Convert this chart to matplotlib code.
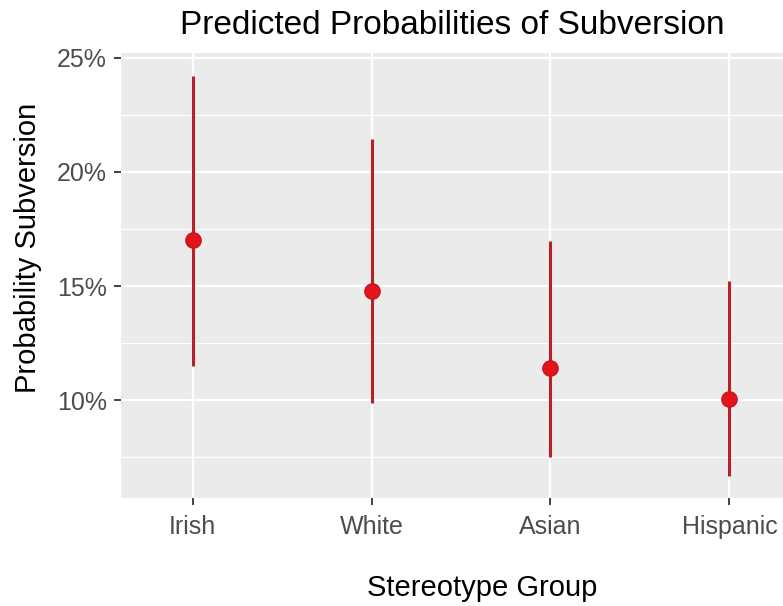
import matplotlib
matplotlib.use("Agg")
import matplotlib.pyplot as plt
from matplotlib.ticker import FixedLocator, FuncFormatter

# Predicted probabilities (%) with confidence intervals
groups = ["Irish", "White", "Asian", "Hispanic"]
predicted = [17.0, 14.8, 11.4, 10.05]
lower = [11.5, 9.9, 7.5, 6.7]
upper = [24.2, 21.45, 16.95, 15.2]

y_major = [10, 15, 20, 25]
y_minor = [7.5, 12.5, 17.5, 22.5]

plt.rcParams["font.family"] = ["Liberation Sans", "DejaVu Sans"]

W, H = 783, 606
fig = plt.figure(figsize=(W / 100, H / 100), dpi=100)
left, right, top, bottom = 121, 801, 53, 498
ax = fig.add_axes([left / W, 1 - bottom / H, (right - left) / W, (bottom - top) / H])

ax.set_facecolor("#EBEBEB")
for s in ax.spines.values():
    s.set_visible(False)

x = list(range(1, len(groups) + 1))
ax.set_xlim(0.6, len(groups) + 0.4)
ax.set_ylim(5.72, 25.2)

ax.yaxis.set_major_locator(FixedLocator(y_major))
ax.yaxis.set_minor_locator(FixedLocator(y_minor))
ax.yaxis.set_major_formatter(FuncFormatter(lambda v, p: f"{v:.0f}%"))
ax.set_xticks(x)
ax.set_xticklabels(groups)

ax.grid(which="major", color="white", linewidth=1.6)
ax.grid(which="minor", axis="y", color="white", linewidth=0.8)
ax.set_axisbelow(True)

ax.tick_params(axis="both", which="major", length=5, width=1.3, color="#333333",
               labelsize=18, labelcolor="#4D4D4D", pad=5)
ax.tick_params(axis="y", which="minor", length=0)
ax.tick_params(axis="x", pad=7)

for xi, lo, hi in zip(x, lower, upper):
    ax.plot([xi, xi], [lo, hi], color="#B8202A", linewidth=2.2, solid_capstyle="butt", zorder=3)
ax.plot(x, predicted, linestyle="none", marker="o", markersize=11,
        color="#E3141C", markeredgecolor="#D01018", zorder=4)

fig.text(482 / W, 1 - 588 / H, "Stereotype Group",
         ha="center", va="center", fontsize=21, color="black")
fig.text(28 / W, 1 - 248 / H, "Probability Subversion", rotation=90,
         ha="center", va="center", fontsize=21, color="black")
fig.text(452 / W, 1 - 25 / H, "Predicted Probabilities of Subversion",
         ha="center", va="center", fontsize=24, color="black")

fig.savefig("out.png", dpi=100)
